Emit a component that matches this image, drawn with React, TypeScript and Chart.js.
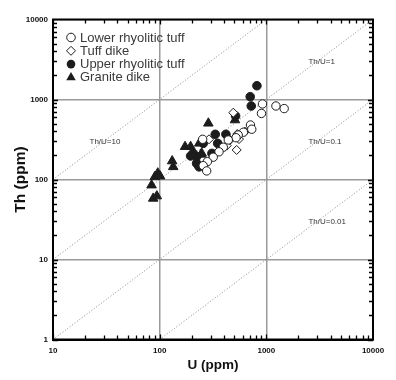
import React, { useEffect, useRef } from 'react';
import { Chart, registerables } from 'chart.js';
Chart.register(...registerables);

// ---- data (U ppm, Th ppm) ----
const lowerU = [920, 900, 1230, 1470, 710, 730, 610, 545, 520, 440, 395, 360, 318, 280, 256, 276, 253];
const lowerTh = [880, 670, 830, 770, 480, 425, 390, 360, 333, 312, 253, 222, 190, 167, 149, 128, 318];

const dikeU = [490, 527, 425, 456, 554, 534, 630, 290];
const dikeTh = [684, 234, 265, 312, 320, 370, 396, 318];

const upperU = [816, 706, 722, 515, 418, 332, 309, 222, 222, 256, 350, 195, 234, 206];
const upperTh = [1487, 1084, 829, 622, 367, 367, 212, 193, 159, 283, 283, 197, 144, 212];

const graniteU = [84, 87, 94, 90, 96, 101, 131, 134, 173, 195, 235, 248, 286, 508, 244];
const graniteTh = [85, 58, 62, 108, 120, 110, 170, 144, 257, 257, 283, 212, 504, 554, 206];

const legendLabels = ['Lower rhyolitic tuff', 'Tuff dike', 'Upper rhyolitic tuff', 'Granite dike'];

// Th/U reference lines (end points) and their labels
const ratioLineU = [[10, 1000], [10, 10000], [10, 10000], [100, 10000]];
const ratioLineTh = [[100, 10000], [10, 10000], [1, 1000], [1, 100]];
const ratioLabels = ['Th/U=10', 'Th/U=1', 'Th/U=0.1', 'Th/U=0.01'];
const ratioLabelU = [22, 2480, 2480, 2480];
const ratioLabelTh = [300, 3000, 298, 30];

const xMin = 10, xMax = 10000, yMin = 1, yMax = 10000;

const INK = '#1c1c1c';
const SANS = '"Liberation Sans", Arial, sans-serif';

const toPts = (u: number[], t: number[]) => u.map((v, i) => ({ x: v, y: t[i] }));
const isDecade = (v: number) => {
  const l = Math.log10(v);
  return Math.abs(l - Math.round(l)) < 1e-9;
};

function drawMarker(ctx: CanvasRenderingContext2D, kind: string, x: number, y: number, r: number) {
  ctx.beginPath();
  if (kind === 'circle') {
    ctx.arc(x, y, r, 0, Math.PI * 2);
  } else if (kind === 'rectRot') {
    ctx.moveTo(x, y - r); ctx.lineTo(x + r, y); ctx.lineTo(x, y + r); ctx.lineTo(x - r, y); ctx.closePath();
  } else {
    const h = r * 1.5;
    ctx.moveTo(x, y - r); ctx.lineTo(x + r * 0.866, y + h - r); ctx.lineTo(x - r * 0.866, y + h - r); ctx.closePath();
  }
}

const framePlugin = {
  id: 'frame',
  afterDraw(chart: any) {
    const { ctx, chartArea: a, scales } = chart;
    const xs = scales.x, ys = scales.y;
    ctx.save();
    // ratio labels
    ctx.font = '8px ' + SANS;
    ctx.fillStyle = '#333';
    ctx.textBaseline = 'middle';
    ctx.textAlign = 'left';
    ratioLabels.forEach((t, i) => {
      ctx.fillText(t, xs.getPixelForValue(ratioLabelU[i]), ys.getPixelForValue(ratioLabelTh[i]));
    });
    // inside tick marks on all four sides
    ctx.strokeStyle = '#000';
    ctx.lineWidth = 1.3;
    ctx.beginPath();
    for (let d = xMin; d < xMax; d *= 10) {
      for (let k = 1; k <= 9; k++) {
        const v = d * k;
        const p = Math.round(xs.getPixelForValue(v)) + 0.5;
        const len = k === 1 ? 5 : 4;
        ctx.moveTo(p, a.bottom); ctx.lineTo(p, a.bottom - len);
        ctx.moveTo(p, a.top); ctx.lineTo(p, a.top + len);
      }
    }
    for (let d = yMin; d < yMax; d *= 10) {
      for (let k = 1; k <= 9; k++) {
        const v = d * k;
        const p = Math.round(ys.getPixelForValue(v)) + 0.5;
        const len = k === 1 ? 5 : 4;
        ctx.moveTo(a.left, p); ctx.lineTo(a.left + len, p);
        ctx.moveTo(a.right, p); ctx.lineTo(a.right - len, p);
      }
    }
    ctx.stroke();
    ctx.lineWidth = 2;
    ctx.strokeRect(a.left, a.top, a.right - a.left, a.bottom - a.top);
    // legend
    const kinds = ['circle', 'rectRot', 'circle', 'triangle'];
    const filled = [false, false, true, true];
    const radii = [4.3, 4.5, 4.3, 5.5];
    const lx = 71, ly0 = 37.5, dy = 13.3;
    ctx.font = '13px ' + SANS;
    kinds.forEach((k, i) => {
      const y = ly0 + i * dy;
      drawMarker(ctx, k, lx, y, radii[i]);
      if (filled[i]) { ctx.fillStyle = INK; ctx.fill(); }
      else { ctx.fillStyle = '#fff'; ctx.fill(); ctx.lineWidth = 1; ctx.strokeStyle = INK; ctx.stroke(); }
      ctx.fillStyle = '#3a3a3a';
      ctx.fillText(legendLabels[i], 80, y + 0.5);
    });
    ctx.restore();
  },
};

export default function App() {
  const ref = useRef<HTMLCanvasElement | null>(null);
  useEffect(() => {
    document.body.style.margin = '0';
    if (!ref.current) return;
    const pointDs = (label: string, u: number[], t: number[], style: string, r: number, fill: boolean) => ({
      type: 'scatter' as const,
      label,
      data: toPts(u, t),
      pointStyle: style,
      pointRadius: r,
      pointBackgroundColor: fill ? INK : '#fff',
      pointBorderColor: INK,
      pointBorderWidth: 1,
      order: 0,
    });
    const lineDs = ratioLineU.map((u, i) => ({
      type: 'line' as const,
      label: ratioLabels[i],
      data: toPts(u, ratioLineTh[i]),
      borderColor: '#8a8a8a',
      borderWidth: 1,
      borderDash: [1, 2],
      pointRadius: 0,
      fill: false,
      order: 10,
    }));
    const chart = new Chart(ref.current, {
      type: 'scatter',
      data: {
        datasets: [
          pointDs(legendLabels[0], lowerU, lowerTh, 'circle', 4.2, false),
          pointDs(legendLabels[1], dikeU, dikeTh, 'rectRot', 4.5, false),
          pointDs(legendLabels[2], upperU, upperTh, 'circle', 4.3, true),
          pointDs(legendLabels[3], graniteU, graniteTh, 'triangle', 5.5, true),
          ...lineDs,
        ] as any,
      },
      options: {
        animation: false,
        responsive: true,
        maintainAspectRatio: false,
        layout: { padding: { top: 19.5, right: 23, left: 0, bottom: 0 } },
        plugins: { legend: { display: false }, tooltip: { enabled: false } },
        scales: {
          x: {
            type: 'logarithmic',
            min: xMin,
            max: xMax,
            afterFit: (s: any) => { s.height = 40.5; },
            grid: {
              drawTicks: false,
              color: (c: any) => (c.tick && isDecade(c.tick.value) ? '#9a9a9a' : 'rgba(0,0,0,0)'),
              lineWidth: 1.5,
            },
            border: { display: true, color: '#000', width: 2 },
            ticks: {
              autoSkip: false,
              maxRotation: 0,
              padding: 6,
              color: '#111',
              font: { family: SANS, size: 8, weight: 'bold' },
              callback: (v: any) => (isDecade(Number(v)) ? String(Number(v)) : ''),
            },
            title: {
              display: true,
              text: 'U (ppm)',
              color: '#111',
              font: { family: SANS, size: 13.5, weight: 'bold' },
              padding: { top: 0, bottom: 6.5 },
            },
          },
          y: {
            type: 'logarithmic',
            min: yMin,
            max: yMax,
            afterFit: (s: any) => { s.width = 53; },
            grid: {
              drawTicks: false,
              color: (c: any) => (c.tick && isDecade(c.tick.value) ? '#9a9a9a' : 'rgba(0,0,0,0)'),
              lineWidth: 1.5,
            },
            border: { display: true, color: '#000', width: 2 },
            ticks: {
              autoSkip: false,
              padding: 5,
              color: '#111',
              font: { family: SANS, size: 8, weight: 'bold' },
              callback: (v: any) => (isDecade(Number(v)) ? String(Number(v)) : ''),
            },
            title: {
              display: true,
              text: 'Th (ppm)',
              color: '#111',
              font: { family: SANS, size: 15.5, weight: 'bold' },
              padding: { top: 11, bottom: 0 },
            },
          },
        },
      } as any,
      plugins: [framePlugin],
    });
    return () => chart.destroy();
  }, []);
  return (
    <div style={{ position: 'relative', width: 396, height: 380 }}>
      <canvas ref={ref} />
    </div>
  );
}
